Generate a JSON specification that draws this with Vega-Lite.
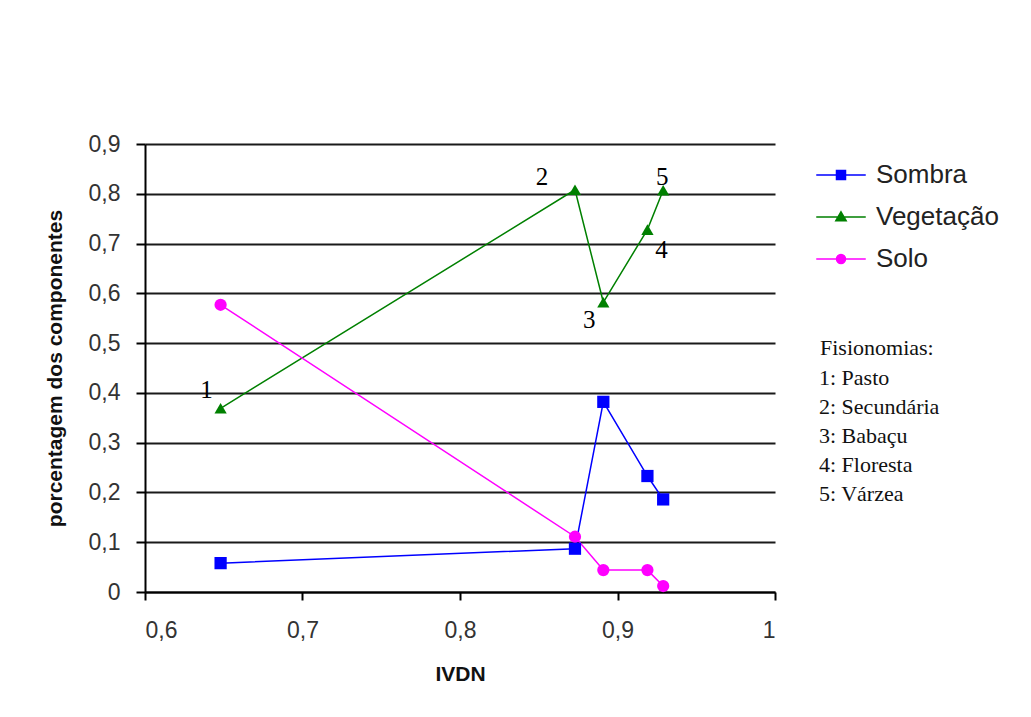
{
  "$schema": "https://vega.github.io/schema/vega-lite/v6.json",
  "width": 630,
  "height": 448,
  "autosize": {"type": "none"},
  "padding": {"left": 145, "top": 144, "right": 256, "bottom": 125},
  "background": "white",
  "data": {
    "values": [
      {"ivdn": 0.648, "serie": "Sombra", "valor": 0.058, "n": "1", "fisionomia": "1: Pasto"},
      {"ivdn": 0.873, "serie": "Sombra", "valor": 0.087, "n": "2", "fisionomia": "2: Secundária"},
      {"ivdn": 0.891, "serie": "Sombra", "valor": 0.382, "n": "3", "fisionomia": "3: Babaçu"},
      {"ivdn": 0.919, "serie": "Sombra", "valor": 0.233, "n": "4", "fisionomia": "4: Floresta"},
      {"ivdn": 0.929, "serie": "Sombra", "valor": 0.186, "n": "5", "fisionomia": "5: Várzea"},
      {"ivdn": 0.648, "serie": "Vegetação", "valor": 0.369, "n": "1", "fisionomia": "1: Pasto"},
      {"ivdn": 0.873, "serie": "Vegetação", "valor": 0.808, "n": "2", "fisionomia": "2: Secundária"},
      {"ivdn": 0.891, "serie": "Vegetação", "valor": 0.582, "n": "3", "fisionomia": "3: Babaçu"},
      {"ivdn": 0.919, "serie": "Vegetação", "valor": 0.728, "n": "4", "fisionomia": "4: Floresta"},
      {"ivdn": 0.929, "serie": "Vegetação", "valor": 0.807, "n": "5", "fisionomia": "5: Várzea"},
      {"ivdn": 0.648, "serie": "Solo", "valor": 0.577, "n": "1", "fisionomia": "1: Pasto"},
      {"ivdn": 0.873, "serie": "Solo", "valor": 0.111, "n": "2", "fisionomia": "2: Secundária"},
      {"ivdn": 0.891, "serie": "Solo", "valor": 0.044, "n": "3", "fisionomia": "3: Babaçu"},
      {"ivdn": 0.919, "serie": "Solo", "valor": 0.044, "n": "4", "fisionomia": "4: Floresta"},
      {"ivdn": 0.929, "serie": "Solo", "valor": 0.012, "n": "5", "fisionomia": "5: Várzea"}
    ]
  },
  "encoding": {
    "x": {
      "field": "ivdn", "type": "quantitative",
      "scale": {"domain": [0.6, 1], "nice": false, "zero": false},
      "axis": {
        "title": "IVDN",
        "values": [0.6, 0.7, 0.8, 0.9, 1],
        "labelExpr": "replace(format(datum.value, '.1~f'), '.', ',')",
        "grid": false,
        "tickSize": 8,
        "labelPadding": 19,
        "titlePadding": 21
      }
    },
    "y": {
      "field": "valor", "type": "quantitative",
      "scale": {"domain": [0, 0.9], "nice": false},
      "axis": {
        "title": "porcentagem dos componentes",
        "values": [0, 0.1, 0.2, 0.3, 0.4, 0.5, 0.6, 0.7, 0.8, 0.9],
        "labelExpr": "replace(format(datum.value, '.1~f'), '.', ',')",
        "grid": true,
        "tickSize": 9,
        "labelPadding": 16,
        "titlePadding": 23
      }
    }
  },
  "layer": [
    {
      "mark": {"type": "line", "strokeWidth": 1.5},
      "encoding": {
        "color": {
          "field": "serie", "type": "nominal",
          "scale": {"domain": ["Sombra", "Vegetação", "Solo"], "range": ["#0000FF", "#008000", "#FF00FF"]},
          "legend": {
            "title": null,
            "orient": "none",
            "legendX": 683,
            "legendY": 18,
            "padding": 0,
            "symbolSize": 81,
            "symbolStrokeWidth": 1.5,
            "labelOffset": 22,
            "rowPadding": 16,
            "labelFont": "Liberation Sans",
            "labelFontSize": 26,
            "labelColor": "#222",
            "labelLimit": 300,
            "encode": {
              "symbols": {
                "update": {
                  "shape": {"signal": "datum.value === 'Sombra' ? 'M-5.5,0H5.5M-1,-1H1V1H-1Z' : (datum.value === 'Solo' ? 'M-5.5,0H5.5M-1,0A1,1 0 1,0 1,0A1,1 0 1,0 -1,0Z' : 'M-5.5,0H5.5M0,-1.15L1.15,0.85H-1.15Z')"},
                  "fill": {"signal": "scale('color', datum.value)"},
                  "stroke": {"signal": "scale('color', datum.value)"},
                  "fillOpacity": {"value": 1},
                  "strokeWidth": {"value": 1.5}
                }
              }
            }
          }
        }
      }
    },
    {
      "mark": {"type": "point", "filled": true, "opacity": 1, "size": 150},
      "encoding": {
        "color": {"field": "serie", "type": "nominal"},
        "shape": {
          "field": "serie", "type": "nominal",
          "scale": {"domain": ["Sombra", "Vegetação", "Solo"], "range": ["square", "triangle-up", "circle"]},
          "legend": null
        }
      }
    },
    {
      "transform": [{"filter": "datum.serie === 'Vegetação'"}],
      "mark": {"type": "point", "opacity": 0, "filled": true},
      "encoding": {
        "shape": {
          "field": "fisionomia", "type": "nominal",
          "legend": {
            "title": "Fisionomias:",
            "orient": "none",
            "legendX": 675,
            "legendY": 194,
            "padding": 0,
            "symbolSize": 0,
            "symbolOpacity": 0,
            "symbolStrokeWidth": 0,
            "labelOffset": -23,
            "rowPadding": 7,
            "titlePadding": 7,
            "titleFont": "Liberation Serif",
            "titleFontSize": 22,
            "titleFontWeight": "normal",
            "titleColor": "#111",
            "labelFont": "Liberation Serif",
            "labelFontSize": 22,
            "labelColor": "#111",
            "labelLimit": 300
          }
        }
      }
    },
    {
      "transform": [{"filter": "datum.serie === 'Vegetação' && datum.n === '1'"}],
      "mark": {"type": "text", "font": "Liberation Serif", "fontSize": 25, "color": "#000", "dx": -14, "dy": -18},
      "encoding": {"text": {"field": "n"}}
    },
    {
      "transform": [{"filter": "datum.serie === 'Vegetação' && datum.n === '2'"}],
      "mark": {"type": "text", "font": "Liberation Serif", "fontSize": 25, "color": "#000", "dx": -33, "dy": -13},
      "encoding": {"text": {"field": "n"}}
    },
    {
      "transform": [{"filter": "datum.serie === 'Vegetação' && datum.n === '3'"}],
      "mark": {"type": "text", "font": "Liberation Serif", "fontSize": 25, "color": "#000", "dx": -14, "dy": 18},
      "encoding": {"text": {"field": "n"}}
    },
    {
      "transform": [{"filter": "datum.serie === 'Vegetação' && datum.n === '4'"}],
      "mark": {"type": "text", "font": "Liberation Serif", "fontSize": 25, "color": "#000", "dx": 14, "dy": 20},
      "encoding": {"text": {"field": "n"}}
    },
    {
      "transform": [{"filter": "datum.serie === 'Vegetação' && datum.n === '5'"}],
      "mark": {"type": "text", "font": "Liberation Serif", "fontSize": 25, "color": "#000", "dx": -1, "dy": -13},
      "encoding": {"text": {"field": "n"}}
    }
  ],
  "resolve": {"scale": {"shape": "independent"}, "legend": {"shape": "independent"}},
  "config": {
    "view": {"stroke": null},
    "axis": {
      "labelFont": "Liberation Sans",
      "labelFontSize": 23,
      "labelColor": "#333",
      "titleFont": "Liberation Sans",
      "titleFontSize": 21,
      "titleFontWeight": "bold",
      "titleColor": "#111",
      "domainColor": "#000",
      "domainWidth": 2,
      "tickColor": "#000",
      "tickWidth": 2,
      "gridColor": "#1a1a1a",
      "gridWidth": 2,
      "gridOpacity": 1
    }
  }
}
